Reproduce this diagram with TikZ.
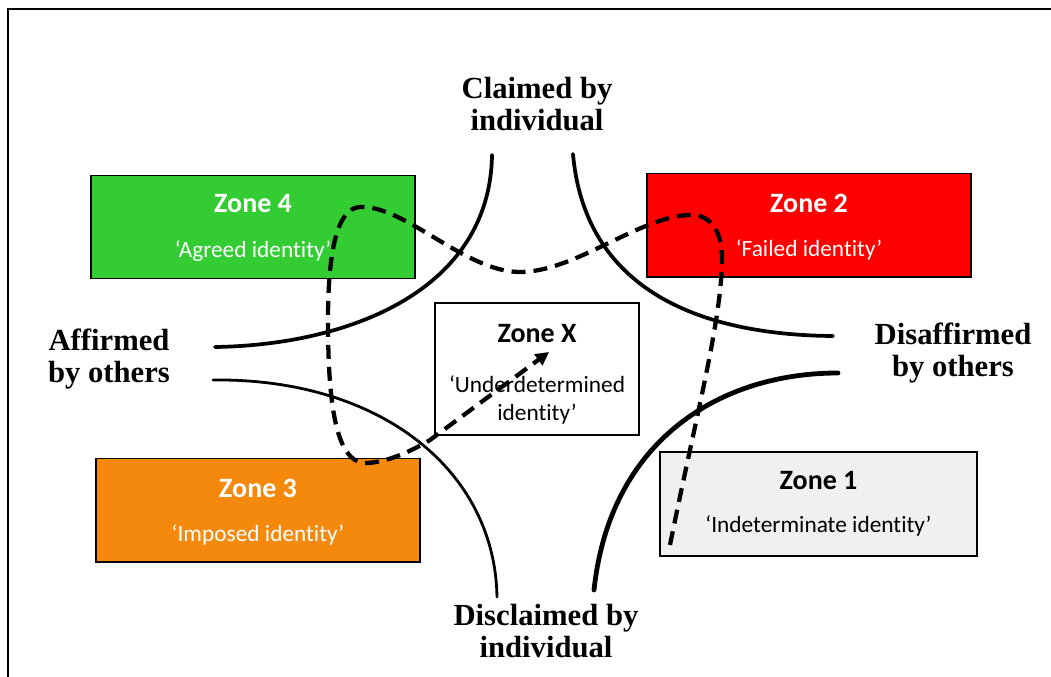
\documentclass[tikz,border=0pt]{standalone}
\usepackage{fontspec}
\setmainfont{Liberation Serif}
\newfontfamily\calfont[Ligatures={NoCommon}]{Carlito}
\usetikzlibrary{arrows.meta,calc}
\definecolor{zgreen}{HTML}{33CC33}
\definecolor{zred}{HTML}{FF0000}
\definecolor{zorange}{HTML}{F5890D}
\definecolor{zgray}{HTML}{F0F0F0}
\begin{document}
\begin{tikzpicture}[x=0.75pt,y=-0.75pt,
  zonebox/.style={draw=black,line width=1pt,inner sep=0pt,minimum width=243pt,minimum height=77.5pt},
  ztitle/.style={anchor=base,inner sep=0pt,font=\calfont\bfseries\fontsize{21}{25}\selectfont},
  zsub/.style={anchor=base,inner sep=0pt,font=\calfont\fontsize{17.5}{21}\selectfont},
  axislabel/.style={align=center,inner sep=0pt,font=\bfseries\fontsize{23}{24}\selectfont},
  hyper/.style={line width=2.8pt,line cap=round},
  dashline/.style={line width=3.2pt,dash pattern=on 10.5pt off 6pt,-{Triangle[length=10pt,width=10pt]}}
]
\useasboundingbox (0,0) rectangle (1051,677);
\fill[white] (0,0) rectangle (1051,677);
\draw[line width=1.9pt] (1080,9) -- (8,9) -- (8,700);

% zone boxes
\node[zonebox,fill=zgreen] (z4) at (253,227) {};
\node[ztitle,text=white] (z4t) at ($(z4)+(0,-14)$) {Zone 4};
\node[zsub,text=white] (z4s) at ($(z4)+(0,31)$) {‘Agreed identity’};

\node[zonebox,fill=zred] (z2) at (809,225.5) {};
\node[ztitle,text=white] (z2t) at ($(z2)+(0,-13)$) {Zone 2};
\node[zsub,text=white] (z2s) at ($(z2)+(0,31)$) {‘Failed identity’};

\node[zonebox,fill=zorange] (z3) at (258,510.5) {};
\node[ztitle,text=white] (z3t) at ($(z3)+(0,-13)$) {Zone 3};
\node[zsub,text=white] (z3s) at ($(z3)+(0,31)$) {‘Imposed identity’};

\node[zonebox,fill=zgray,minimum width=237.75pt,minimum height=78pt] (z1) at (818.5,504) {};
\node[ztitle] (z1t) at ($(z1)+(0,-14)$) {Zone 1};
\node[zsub] (z1s) at ($(z1)+(0,29)$) {‘Indeterminate identity’};

\node[zonebox,fill=white,minimum width=153pt,minimum height=99pt] (zx) at (537,369) {};
\node[ztitle] (zxt) at ($(zx)+(0,-26)$) {Zone X};
\node[zsub] (zxs1) at ($(zx)+(0,24)$) {‘Underdetermined};
\node[zsub] (zxs2) at ($(zx)+(0,52)$) {identity’};

% axis labels
\node[axislabel] (claimed) at (537,104) {Claimed by\\individual};
\node[axislabel] (affirmed) at (109,359) {Affirmed\\by others};
\node[axislabel] (disaff) at (953,353) {Disaffirmed\\by others};
\node[axislabel] (disclaimed) at (546,631) {Disclaimed by\\individual};

% hyperbola branches
\coordinate (tlA) at (492,155); \coordinate (tlB) at (215,347);
\coordinate (trA) at (573,154); \coordinate (trB) at (833,336);
\coordinate (blA) at (213,380); \coordinate (blB) at (497,597);
\coordinate (brA) at (838,373); \coordinate (brB) at (594,590);
\draw[hyper] (tlA) .. controls (490,290) and (350,345) .. (tlB);
\draw[hyper] (trA) .. controls (585,290) and (700,335) .. (trB);
\draw[hyper,line width=2.1pt] (blA) .. controls (380,378) and (495,470) .. (blB);
\draw[hyper,line width=3.6pt] (brA) .. controls (720,373) and (610,440) .. (brB);

% dashed trajectory
\coordinate (d0) at (670,545);
\coordinate (d1) at (722,258);
\coordinate (d2) at (690,215);
\coordinate (d3) at (520,272);
\coordinate (d4) at (360,207);
\coordinate (d5) at (328,320);
\coordinate (d6) at (365,463);
\coordinate (d7) at (430,440);
\coordinate (dX) at (549,352);
\draw[dashline] (d0) .. controls (695,420) and (722,320) .. (d1)
  .. controls (722,228) and (708,214) .. (d2)
  .. controls (640,216) and (575,272) .. (d3)
  .. controls (465,272) and (405,205) .. (d4)
  .. controls (335,208) and (328,260) .. (d5)
  .. controls (328,400) and (335,462) .. (d6)
  .. controls (385,463) and (410,452) .. (d7) -- (dX);
\end{tikzpicture}
\end{document}
